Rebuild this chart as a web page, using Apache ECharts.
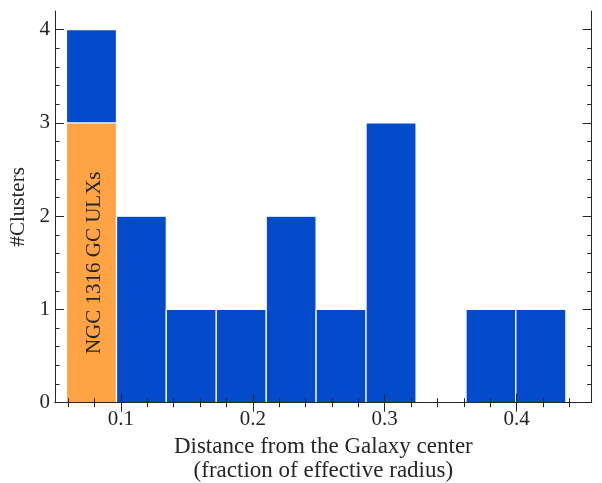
<!DOCTYPE html>
<html>
<head>
<meta charset="utf-8">
<script src="https://cdn.jsdelivr.net/npm/echarts@6/dist/echarts.min.js"></script>
<style>
  html, body { margin: 0; padding: 0; background: #ffffff; }
  #chart { width: 602px; height: 483px; }
</style>
</head>
<body>
<div id="chart"></div>
<script>
// Histogram bin edges, distance in units of the effective radius
const binEdges = [0.0587, 0.0966, 0.1344, 0.1723, 0.2102, 0.2480, 0.2859, 0.3238, 0.3617, 0.3995, 0.4374];
// Number of clusters per bin (all clusters)
const allCounts = [4, 2, 1, 1, 2, 1, 3, 0, 1, 1];
// Number of clusters per bin that host a ULX
const ulxCounts = [3, 0, 0, 0, 0, 0, 0, 0, 0, 0];
const ulxLabel = 'NGC 1316 GC ULXs';

// Axis ranges and ticks
const xRange = [0.05, 0.457];
const yRange = [0, 4.2];
const xMajorTicks = [0.1, 0.2, 0.3, 0.4];
const xMinorTicks = [0.06, 0.08, 0.12, 0.14, 0.16, 0.18, 0.22, 0.24, 0.26, 0.28,
                     0.32, 0.34, 0.36, 0.38, 0.42, 0.44];
const yMajorTicks = [0, 1, 2, 3, 4];
const yMinorTicks = [0.2, 0.4, 0.6, 0.8, 1.2, 1.4, 1.6, 1.8, 2.2, 2.4, 2.6, 2.8,
                     3.2, 3.4, 3.6, 3.8];

const xTitle = 'Distance from the Galaxy center\n(fraction of effective radius)';
const yTitle = '#Clusters';

const FONT = '"Liberation Serif", "DejaVu Serif", serif';
const INK = '#262626';
const BLUE = '#044bcc';
const ORANGE = '#ffa444';

function bins(counts) {
  const out = [];
  for (let i = 0; i < counts.length; i++) {
    if (counts[i] > 0) out.push([binEdges[i], binEdges[i + 1], counts[i]]);
  }
  return out;
}

function barRenderer(color, label) {
  return function (params, api) {
    const p0 = api.coord([api.value(0), 0]);
    const p1 = api.coord([api.value(1), api.value(2)]);
    const el = {
      type: 'rect',
      shape: { x: p0[0], y: p1[1], width: p1[0] - p0[0], height: p0[1] - p1[1] },
      style: { fill: color, stroke: '#ffffff', lineWidth: 1.2 }
    };
    if (label) {
      el.textContent = {
        style: { text: label, fontSize: 21, fontFamily: FONT, fill: INK }
      };
      el.textConfig = { position: 'inside', rotation: Math.PI / 2, offset: [0, 3] };
    }
    return el;
  };
}

// One axis per side and tick size; ticks point into the plot and sit above the bars
function axisDef(kind, position, ticks, len, showLine, extra) {
  const range = kind === 'x' ? xRange : yRange;
  return Object.assign({
    type: 'value', position: position, min: range[0], max: range[1], z: 10,
    axisLine: { show: showLine, lineStyle: { color: INK, width: 1 } },
    axisTick: { show: true, inside: true, length: len, customValues: ticks,
                lineStyle: { color: INK, width: 1 } },
    axisLabel: { show: false },
    splitLine: { show: false }
  }, extra || {});
}

const xAxes = [
  axisDef('x', 'bottom', xMajorTicks, 9, true, {
    axisLabel: {
      show: true, customValues: xMajorTicks, margin: 6,
      fontSize: 21, fontFamily: FONT, color: INK,
      formatter: v => v.toFixed(1)
    },
    name: xTitle, nameLocation: 'middle', nameGap: 28,
    nameTextStyle: { fontSize: 23, fontFamily: FONT, color: INK, lineHeight: 24 }
  }),
  axisDef('x', 'bottom', xMinorTicks, 4.5, false),
  axisDef('x', 'top', xMajorTicks, 9, true),
  axisDef('x', 'top', xMinorTicks, 4.5, false)
];

const yAxes = [
  axisDef('y', 'left', yMajorTicks, 9, true, {
    axisLabel: {
      show: true, customValues: yMajorTicks, margin: 5,
      fontSize: 21, fontFamily: FONT, color: INK,
      formatter: v => String(Math.round(v))
    },
    name: yTitle, nameLocation: 'middle', nameGap: 23,
    nameTextStyle: { fontSize: 21, fontFamily: FONT, color: INK }
  }),
  axisDef('y', 'left', yMinorTicks, 4.5, false),
  axisDef('y', 'right', yMajorTicks, 9, true),
  axisDef('y', 'right', yMinorTicks, 4.5, false)
];

const chart = echarts.init(document.getElementById('chart'), null, { renderer: 'canvas' });
chart.setOption({
  animation: false,
  backgroundColor: '#ffffff',
  grid: { left: 55, right: 10.3, top: 11, bottom: 80.3, containLabel: false, outerBoundsMode: 'none' },
  xAxis: xAxes,
  yAxis: yAxes,
  series: [
    {
      type: 'custom', name: 'all', xAxisIndex: 0, yAxisIndex: 0, z: 2,
      encode: { x: [0, 1], y: 2 },
      data: bins(allCounts),
      renderItem: barRenderer(BLUE, null)
    },
    {
      type: 'custom', name: 'ulx', xAxisIndex: 0, yAxisIndex: 0, z: 3,
      encode: { x: [0, 1], y: 2 },
      data: bins(ulxCounts),
      renderItem: barRenderer(ORANGE, ulxLabel)
    }
  ]
});
</script>
</body>
</html>
